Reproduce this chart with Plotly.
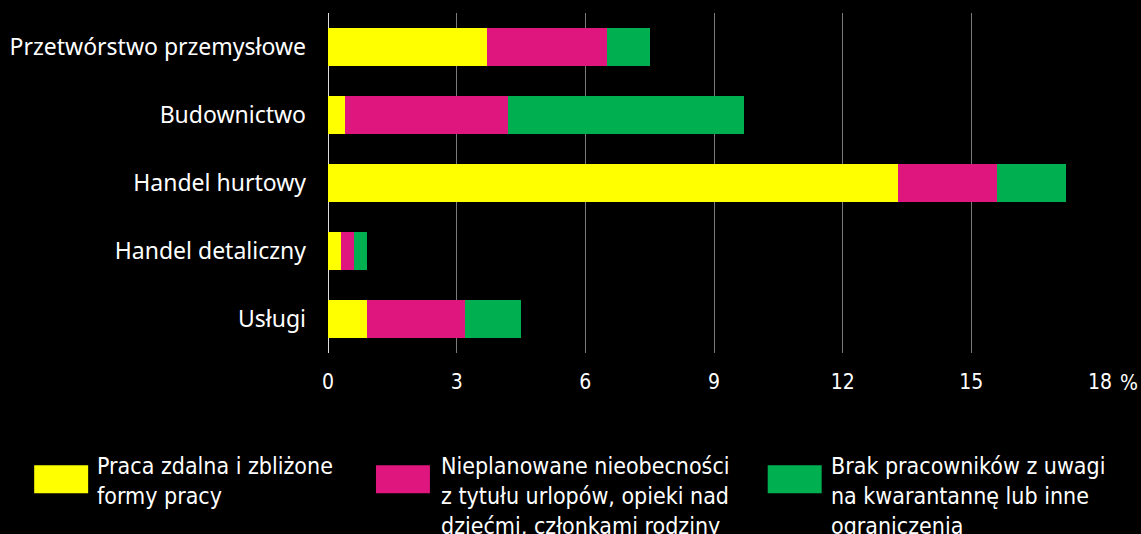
import plotly.graph_objects as go

categories = ["Przetwórstwo przemysłowe", "Budownictwo", "Handel hurtowy", "Handel detaliczny", "Usługi"]
remote_work = [3.7, 0.4, 13.3, 0.3, 0.9]
absences = [2.8, 3.8, 2.3, 0.3, 2.3]
quarantine = [1.0, 5.5, 1.6, 0.3, 1.3]
series_names = [
    "Praca zdalna i zbliżone<br>formy pracy",
    "Nieplanowane nieobecności<br>z tytułu urlopów, opieki nad<br>dziećmi, członkami rodziny",
    "Brak pracowników z uwagi<br>na kwarantannę lub inne<br>ograniczenia",
]
colors = ["#FFFF00", "#DF167E", "#00AF50"]
tick_vals = [0, 3, 6, 9, 12, 15, 18]
tick_text = ["0", "3", "6", "9", "12", "15", "18"]

W, H = 1141, 534
L, R, T, B = 328, 1100.5, 13, 353.5

def px_x(px):
    return (px - L) / (R - L)

def px_y(py):
    return (B - py) / (B - T)

FONT = "Noto Sans, Open Sans, sans-serif"
NARROW = "DejaVu Sans Condensed, Roboto, sans-serif"

fig = go.Figure()
for vals, col in zip([remote_work, absences, quarantine], colors):
    fig.add_trace(go.Bar(
        y=categories, x=vals, orientation="h",
        marker=dict(color=col, line=dict(width=0)),
        showlegend=False, hoverinfo="x+y",
    ))

shapes = []
annotations = []
legend_sq = [34, 376, 768]
legend_tx = [95, 439, 829]
for sx, tx, col, name in zip(legend_sq, legend_tx, colors, series_names):
    shapes.append(dict(type="rect", xref="paper", yref="paper",
                       x0=px_x(sx), x1=px_x(sx + 54), y0=px_y(494), y1=px_y(466),
                       fillcolor=col, line=dict(width=0)))
    annotations.append(dict(xref="paper", yref="paper", x=px_x(tx), y=px_y(452),
                            xanchor="left", yanchor="top", align="left", showarrow=False,
                            text=name, font=dict(family=NARROW, size=23, color="white")))
annotations.append(dict(xref="paper", yref="paper", x=px_x(1119), y=px_y(384),
                        xanchor="left", yanchor="middle", showarrow=False,
                        text="%", font=dict(family=NARROW, size=21, color="white")))

fig.update_layout(
    width=W, height=H,
    margin=dict(l=L, r=W - R, t=T, b=H - B, autoexpand=False),
    paper_bgcolor="black", plot_bgcolor="black",
    barmode="stack", bargap=0.44,
    shapes=shapes, annotations=annotations,
    xaxis=dict(range=[0, 18], tickvals=tick_vals, ticktext=tick_text,
               showgrid=True, gridcolor="#7a7a7a", gridwidth=1,
               zeroline=True, zerolinecolor="#dddddd", zerolinewidth=1,
               ticks="", ticklabelstandoff=14, automargin=False,
               tickfont=dict(family=NARROW, size=21, color="white")),
    yaxis=dict(categoryorder="array", categoryarray=categories[::-1],
               showgrid=False, zeroline=False, ticks="", ticklabelstandoff=21,
               automargin=False,
               tickfont=dict(family=FONT, size=23, color="white")),
)
fig.write_html("out.html", config={"displayModeBar": False},
               post_script="document.body.style.margin='0';document.body.style.background='black';")
